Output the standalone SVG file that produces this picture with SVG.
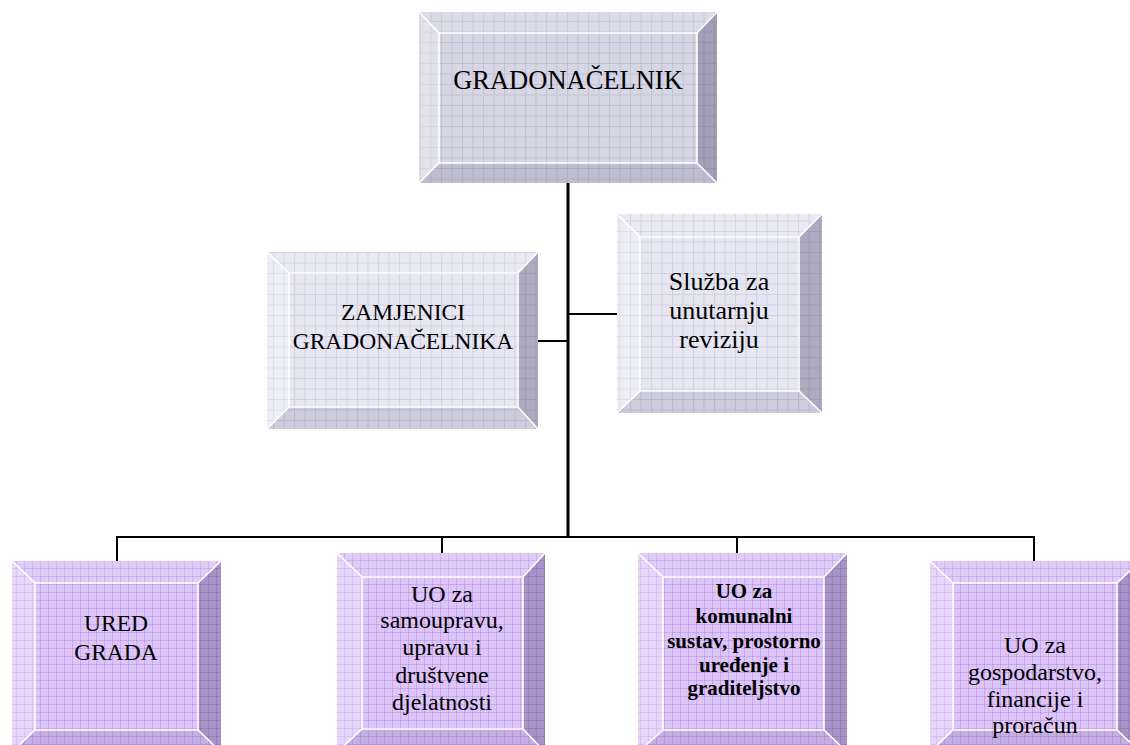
<svg xmlns="http://www.w3.org/2000/svg" width="1130" height="745" viewBox="0 0 1130 745">
<style>
.gray{fill:#d6d6e4}
.light{fill:#e7e7f3}
.purple{fill:#ddc5f8}
.hl-top{fill:#ffffff;fill-opacity:0.12}
.hl-left{fill:#ffffff;fill-opacity:0.3}
.sh-right{fill:#2a2050;fill-opacity:0.3}
.sh-bottom{fill:#2a2050;fill-opacity:0.13}
.edge{fill:none;stroke:#ffffff;stroke-width:1.6}
.t{font-family:"Liberation Serif","Times New Roman",serif;fill:#000;text-anchor:middle}
.conn{stroke:#000;fill:none}
</style>
<defs>
<pattern id="gridG" width="10.5" height="10.5" patternUnits="userSpaceOnUse">
<path d="M0 0.5H10.5M0.5 0V10.5" stroke="#6a6a90" stroke-opacity="0.18" stroke-width="1" fill="none"/>
</pattern>
<pattern id="gridP" width="8" height="8" patternUnits="userSpaceOnUse">
<path d="M0 0.5H8M0.5 0V8" stroke="#8a40d0" stroke-opacity="0.22" stroke-width="1" fill="none"/>
</pattern>
</defs>

<g id="connectors">
<line class="conn" x1="568" y1="183" x2="568" y2="538" stroke-width="3"/>
<line class="conn" x1="568" y1="314" x2="617" y2="314" stroke-width="2"/>
<line class="conn" x1="538" y1="341" x2="568" y2="341" stroke-width="2"/>
<line class="conn" x1="116" y1="537" x2="1035" y2="537" stroke-width="2"/>
<line class="conn" x1="117" y1="537" x2="117" y2="561" stroke-width="2"/>
<line class="conn" x1="442" y1="537" x2="442" y2="553" stroke-width="2"/>
<line class="conn" x1="737" y1="537" x2="737" y2="553" stroke-width="2"/>
<line class="conn" x1="1034" y1="537" x2="1034" y2="561" stroke-width="2"/>
</g>

<g id="gradonacelnik">
<rect class="gray" x="419" y="12" width="298" height="171"/>
<rect fill="url(#gridG)" x="419" y="12" width="298" height="171"/>
<polygon class="hl-top" points="419,12 717,12 697,33 439,33"/>
<polygon class="hl-left" points="419,12 439,33 439,163 419,183"/>
<polygon class="sh-right" points="717,12 717,183 697,163 697,33"/>
<polygon class="sh-bottom" points="419,183 717,183 697,163 439,163"/>
<path class="edge" d="M439 33H697V163H439Z M419 12L439 33 M717 12L697 33 M419 183L439 163 M717 183L697 163"/>
<text class="t" x="568" y="89" font-size="26.5">GRADONAČELNIK</text>
</g>

<g id="zamjenici">
<rect class="light" x="267" y="252" width="271" height="177"/>
<rect fill="url(#gridG)" x="267" y="252" width="271" height="177"/>
<polygon class="hl-top" points="267,252 538,252 518,273 289,273"/>
<polygon class="hl-left" points="267,252 289,273 289,407 267,429"/>
<polygon class="sh-right" points="538,252 538,429 518,407 518,273"/>
<polygon class="sh-bottom" points="267,429 538,429 518,407 289,407"/>
<path class="edge" d="M289 273H518V407H289Z M267 252L289 273 M538 252L518 273 M267 429L289 407 M538 429L518 407"/>
<text class="t" x="403" y="320" font-size="23.5">ZAMJENICI</text>
<text class="t" x="403" y="349" font-size="23.5">GRADONAČELNIKA</text>
</g>

<g id="sluzba">
<rect class="light" x="617" y="214" width="205" height="199"/>
<rect fill="url(#gridG)" x="617" y="214" width="205" height="199"/>
<polygon class="hl-top" points="617,214 822,214 799,237 640,237"/>
<polygon class="hl-left" points="617,214 640,237 640,391 617,413"/>
<polygon class="sh-right" points="822,214 822,413 799,391 799,237"/>
<polygon class="sh-bottom" points="617,413 822,413 799,391 640,391"/>
<path class="edge" d="M640 237H799V391H640Z M617 214L640 237 M822 214L799 237 M617 413L640 391 M822 413L799 391"/>
<text class="t" x="719" y="290" font-size="26">Služba za</text>
<text class="t" x="719" y="319" font-size="26">unutarnju</text>
<text class="t" x="719" y="348" font-size="26">reviziju</text>
</g>

<g id="ured-grada">
<rect class="purple" x="12" y="561" width="209" height="191"/>
<rect fill="url(#gridP)" x="12" y="561" width="209" height="191"/>
<polygon class="hl-top" points="12,561 221,561 198,583 35,583"/>
<polygon class="hl-left" points="12,561 35,583 35,730 12,752"/>
<polygon class="sh-right" points="221,561 221,752 198,730 198,583"/>
<polygon class="sh-bottom" points="12,752 221,752 198,730 35,730"/>
<path class="edge" d="M35 583H198V730H35Z M12 561L35 583 M221 561L198 583 M12 752L35 730 M221 752L198 730"/>
<text class="t" x="116" y="631" font-size="23.5">URED</text>
<text class="t" x="116" y="660" font-size="23.5">GRADA</text>
</g>

<g id="uo-samouprava">
<rect class="purple" x="337" y="553" width="208" height="199"/>
<rect fill="url(#gridP)" x="337" y="553" width="208" height="199"/>
<polygon class="hl-top" points="337,553 545,553 523,577 362,577"/>
<polygon class="hl-left" points="337,553 362,577 362,729 337,752"/>
<polygon class="sh-right" points="545,553 545,752 523,729 523,577"/>
<polygon class="sh-bottom" points="337,752 545,752 523,729 362,729"/>
<path class="edge" d="M362 577H523V729H362Z M337 553L362 577 M545 553L523 577 M337 752L362 729 M545 752L523 729"/>
<text class="t" x="442" y="602" font-size="24">UO za</text>
<text class="t" x="442" y="628" font-size="24">samoupravu,</text>
<text class="t" x="442" y="655" font-size="24">upravu i</text>
<text class="t" x="442" y="683" font-size="24">društvene</text>
<text class="t" x="442" y="710" font-size="24">djelatnosti</text>
</g>

<g id="uo-komunalni">
<rect class="purple" x="638" y="553" width="209" height="199"/>
<rect fill="url(#gridP)" x="638" y="553" width="209" height="199"/>
<polygon class="hl-top" points="638,553 847,553 824,577 663,577"/>
<polygon class="hl-left" points="638,553 663,577 663,730 638,752"/>
<polygon class="sh-right" points="847,553 847,752 824,730 824,577"/>
<polygon class="sh-bottom" points="638,752 847,752 824,730 663,730"/>
<path class="edge" d="M663 577H824V730H663Z M638 553L663 577 M847 553L824 577 M638 752L663 730 M847 752L824 730"/>
<text class="t" x="744" y="598" font-size="21" font-weight="bold">UO za</text>
<text class="t" x="744" y="623" font-size="21" font-weight="bold">komunalni</text>
<text class="t" x="744" y="648" font-size="21" font-weight="bold">sustav, prostorno</text>
<text class="t" x="744" y="672" font-size="21" font-weight="bold">uređenje i</text>
<text class="t" x="744" y="695" font-size="21" font-weight="bold">graditeljstvo</text>
</g>

<g id="uo-gospodarstvo">
<rect class="purple" x="930" y="561" width="210" height="191"/>
<rect fill="url(#gridP)" x="930" y="561" width="210" height="191"/>
<polygon class="hl-top" points="930,561 1140,561 1117,583 953,583"/>
<polygon class="hl-left" points="930,561 953,583 953,730 930,752"/>
<polygon class="sh-right" points="1140,561 1140,752 1117,730 1117,583"/>
<polygon class="sh-bottom" points="930,752 1140,752 1117,730 953,730"/>
<path class="edge" d="M953 583H1117V730H953Z M930 561L953 583 M1140 561L1117 583 M930 752L953 730 M1140 752L1117 730"/>
<text class="t" x="1035" y="653" font-size="24">UO za</text>
<text class="t" x="1035" y="680" font-size="24">gospodarstvo,</text>
<text class="t" x="1035" y="707" font-size="24">financije i</text>
<text class="t" x="1035" y="733" font-size="24">proračun</text>
</g>
</svg>
